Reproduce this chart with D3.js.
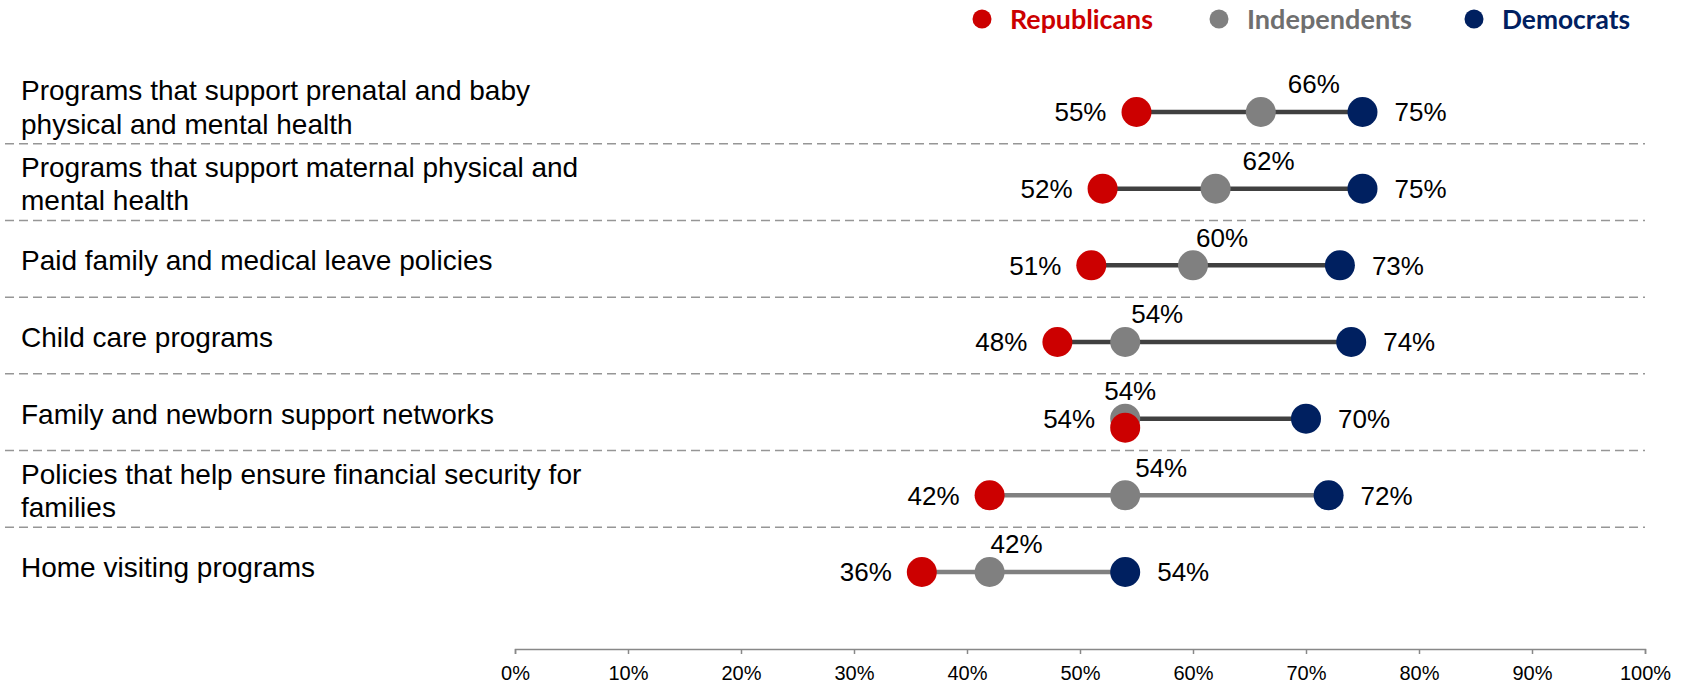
<!DOCTYPE html>
<html><head><meta charset="utf-8">
<script src="https://cdn.jsdelivr.net/npm/d3@7"></script>
<style>body{margin:0;background:#fff;} svg{display:block}</style>
</head><body><svg id="c" width="1689" height="684"></svg>
<script>
// ---- data ----
const categories = [
  "Programs that support prenatal and baby\nphysical and mental health",
  "Programs that support maternal physical and\nmental health",
  "Paid family and medical leave policies",
  "Child care programs",
  "Family and newborn support networks",
  "Policies that help ensure financial security for\nfamilies",
  "Home visiting programs"
];
const republicans  = [55, 52, 51, 48, 54, 42, 36];
const independents = [66, 62, 60, 54, 54, 54, 42];
const democrats    = [75, 75, 73, 74, 70, 72, 54];
const seriesNames  = ["Republicans", "Independents", "Democrats"];
const tickValues   = [0, 10, 20, 30, 40, 50, 60, 70, 80, 90, 100];

// ---- layout / style (not data) ----
const colors = {Republicans: "#CC0000", Independents: "#808080", Democrats: "#002060"};
const legendTextColors = {Republicans: "#CC0000", Independents: "#6f6f6f", Democrats: "#002060"};
const connectorColors = ["#404040","#404040","#404040","#404040","#404040","#808080","#808080"];
const indLabelDx = [53, 53, 29, 32, 5, 36, 27];
const repDy = [0, 0, 0, 0, 9, 0, 0];
const legX = {Republicans: 982, Independents: 1219, Democrats: 1474};
const legW = {Republicans: 143, Independents: 165, Democrats: 128};

const svg = d3.select("#c");
const x = d3.scaleLinear().domain([0, 100]).range([515, 1645]);
const y = d3.scalePoint().domain(d3.range(categories.length)).range([112, 572]);
const step = y.step();
const R = 15;
const labelFont = "'Liberation Sans', Arial, sans-serif";

// separators
svg.append("g").selectAll("line")
  .data(d3.range(categories.length - 1))
  .join("line")
  .attr("x1", 5).attr("x2", 1645)
  .attr("y1", i => y(i) + step / 2 - 6.5)
  .attr("y2", i => y(i) + step / 2 - 6.5)
  .attr("stroke", "#969696").attr("stroke-width", 1.5)
  .attr("stroke-dasharray", "9,5");

// category labels
const cat = svg.append("g").selectAll("text")
  .data(categories).join("text")
  .attr("font-family", labelFont).attr("font-size", 28).attr("fill", "#000")
  .attr("x", 21);
cat.each(function(d, i) {
  const lines = d.split("\n");
  const lh = 33.5;
  const c = y(i) - 5;
  const y0 = c - (lines.length - 1) * lh / 2 + 10;
  d3.select(this).selectAll("tspan").data(lines).join("tspan")
    .attr("x", 21).attr("y", (l, k) => y0 + k * lh).text(l => l);
});

// axis
const axis = d3.axisBottom(x).tickValues(tickValues).tickSize(5).tickPadding(12)
  .tickFormat(d => d + "%");
const ax = svg.append("g").attr("transform", "translate(0,649)").call(axis);
ax.select(".domain").attr("stroke", "#888").attr("stroke-width", 1.5);
ax.selectAll(".tick line").attr("stroke", "#888").attr("stroke-width", 1.5);
ax.selectAll(".tick text").attr("font-family", labelFont).attr("font-size", 20).attr("fill", "#000");

// rows
const rows = categories.map((c, i) => ({i, r: republicans[i], ind: independents[i], d: democrats[i]}));
const g = svg.append("g");
g.selectAll("line.conn").data(rows).join("line").attr("class", "conn")
  .attr("x1", d => x(Math.min(d.r, d.ind, d.d)))
  .attr("x2", d => x(Math.max(d.r, d.ind, d.d)))
  .attr("y1", d => y(d.i)).attr("y2", d => y(d.i))
  .attr("stroke", d => connectorColors[d.i]).attr("stroke-width", 4.5);

g.selectAll("circle.ind").data(rows).join("circle").attr("class", "ind")
  .attr("cx", d => x(d.ind)).attr("cy", d => y(d.i)).attr("r", R).attr("fill", colors.Independents);
g.selectAll("circle.dem").data(rows).join("circle").attr("class", "dem")
  .attr("cx", d => x(d.d)).attr("cy", d => y(d.i)).attr("r", R).attr("fill", colors.Democrats);
g.selectAll("circle.rep").data(rows).join("circle").attr("class", "rep")
  .attr("cx", d => x(d.r)).attr("cy", d => y(d.i) + repDy[d.i]).attr("r", R).attr("fill", colors.Republicans);

const vfs = 26, vOff = 9.3;
g.selectAll("text.rep").data(rows).join("text").attr("class", "rep")
  .attr("x", d => x(d.r) - 30).attr("y", d => y(d.i) + vOff)
  .attr("text-anchor", "end").attr("font-family", labelFont).attr("font-size", vfs)
  .text(d => d.r + "%");
g.selectAll("text.dem").data(rows).join("text").attr("class", "dem")
  .attr("x", d => x(d.d) + 32).attr("y", d => y(d.i) + vOff)
  .attr("text-anchor", "start").attr("font-family", labelFont).attr("font-size", vfs)
  .text(d => d.d + "%");
g.selectAll("text.ind").data(rows).join("text").attr("class", "ind")
  .attr("x", d => x(d.ind) + indLabelDx[d.i]).attr("y", d => y(d.i) - 28 + vOff)
  .attr("text-anchor", "middle").attr("font-family", labelFont).attr("font-size", vfs)
  .text(d => d.ind + "%");

// legend
const leg = svg.append("g").selectAll("g").data(seriesNames).join("g")
  .attr("transform", d => `translate(${legX[d]},19)`);
leg.append("circle").attr("r", 9.5).attr("fill", d => colors[d]);
leg.append("text").attr("x", 28).attr("y", 9.5)
  .attr("font-family", "Lato, 'Open Sans', sans-serif").attr("font-weight", 700).attr("font-size", 27)
  .attr("textLength", d => legW[d]).attr("lengthAdjust", "spacingAndGlyphs")
  .attr("fill", d => legendTextColors[d]).text(d => d);
</script>
</body></html>
